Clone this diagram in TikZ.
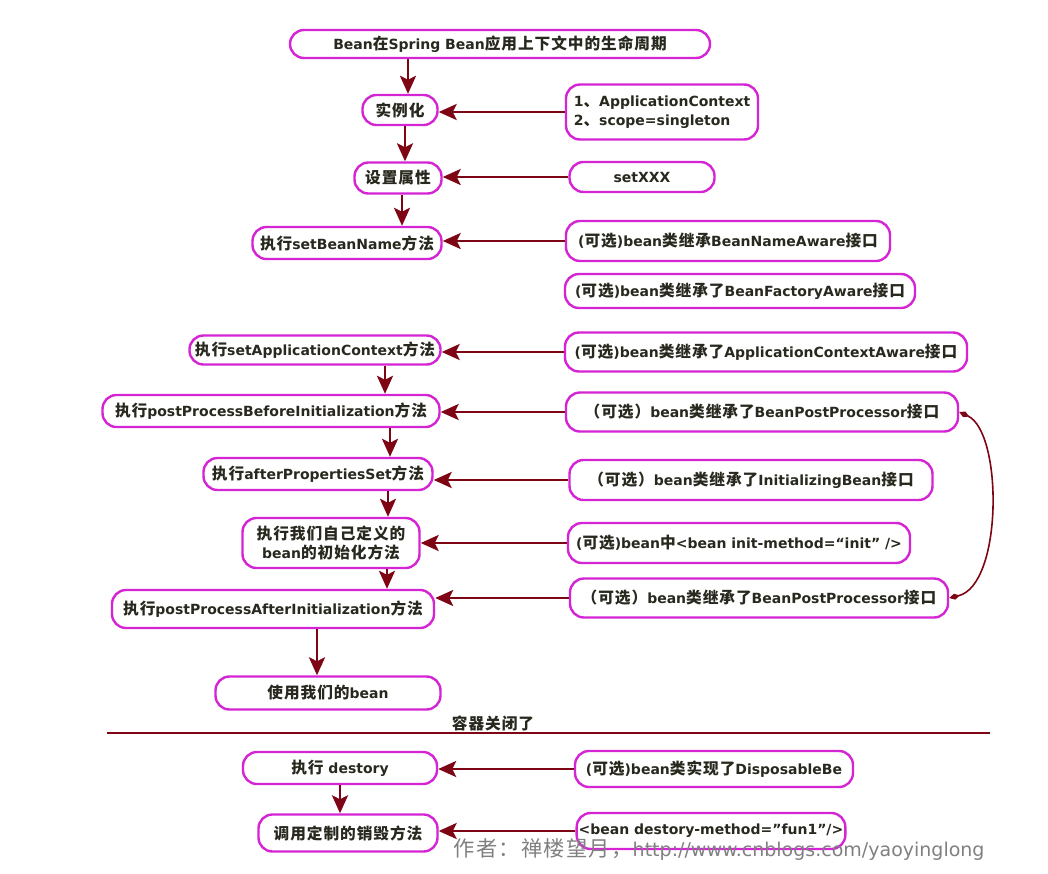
\documentclass[tikz,border=0pt]{standalone}
\usepackage{fontspec}
\setmainfont{DejaVu Sans}
\newfontfamily\zhfont{Noto Sans CJK SC}[Scale=1.12, LetterSpace=6]
\newcommand{\zh}[1]{{\zhfont #1}}
\usetikzlibrary{arrows.meta}
\definecolor{boxpink}{RGB}{212,36,212}
\definecolor{arrowred}{RGB}{125,5,20}
\definecolor{inkdark}{RGB}{40,40,30}

\begin{document}
\begin{tikzpicture}[x=1pt, y=-1pt,
  stage/.style={draw=boxpink, line width=2.4pt, rounded corners=14pt, fill=white,
    text=inkdark, font=\bfseries\fontsize{14}{19}\selectfont, inner sep=2pt, align=center},
  flow/.style={draw=arrowred, line width=2.8pt, -{Stealth[length=18pt,width=16pt,inset=4pt]}},
  loopback/.style={draw=arrowred, line width=1.6pt,
    {Diamond[length=11pt,width=6pt]}-{Diamond[length=11pt,width=6pt]}}]
  \useasboundingbox (0,0) rectangle (1048,873);

  % the life of one bean
  \node[stage, minimum width=420pt, minimum height=28pt] (life) at (500,44) {Bean\zh{在}Spring Bean\zh{应用上下文中的生命周期}};
  \node[stage, minimum width=75pt,  minimum height=30pt] (inst)    at (400,110) {\zh{实例化}};
  \node[stage, minimum width=87pt,  minimum height=31pt] (attr)    at (398,178) {\zh{设置属性}};
  \node[stage, minimum width=189pt, minimum height=32pt] (name)    at (347,243) {\zh{执行}setBeanName\zh{方法}};
  \node[stage, minimum width=251pt, minimum height=29pt] (appctx)  at (315,350) {\zh{执行}setApplicationContext\zh{方法}};
  \node[stage, minimum width=337pt, minimum height=32pt] (before)  at (271,411) {\zh{执行}postProcessBeforeInitialization\zh{方法}};
  \node[stage, minimum width=229pt, minimum height=32pt] (afterps) at (318,474) {\zh{执行}afterPropertiesSet\zh{方法}};
  \node[stage, minimum width=177pt, minimum height=50pt] (myinit)  at (331,543) {\zh{执行我们自己定义的}\\bean\zh{的初始化方法}};
  \node[stage, minimum width=322pt, minimum height=38pt] (after)   at (273,609) {\zh{执行}postProcessAfterInitialization\zh{方法}};
  \node[stage, minimum width=225pt, minimum height=33pt] (use)     at (328,693) {\zh{使用我们的}bean};

  % what feeds each step
  \node[stage, minimum width=192pt, minimum height=55pt, align=left] (ctx) at (662,112) {1\zh{、}ApplicationContext\\2\zh{、}scope=singleton};
  \node[stage, minimum width=145pt, minimum height=30pt] (setx)     at (642,177) {setXXX};
  \node[stage, minimum width=324pt, minimum height=40pt] (nameaw)   at (728,241) {(\zh{可选})bean\zh{类继承}BeanNameAware\zh{接口}};
  \node[stage, minimum width=350pt, minimum height=34pt] (factaw)   at (740,291) {(\zh{可选})bean\zh{类继承了}BeanFactoryAware\zh{接口}};
  \node[stage, minimum width=402pt, minimum height=39pt] (ctxaw)    at (766,352) {(\zh{可选})bean\zh{类继承了}ApplicationContextAware\zh{接口}};
  \node[stage, minimum width=392pt, minimum height=39pt] (bpp1)     at (762,412) {\zh{（可选）}bean\zh{类继承了}BeanPostProcessor\zh{接口}};
  \node[stage, minimum width=363pt, minimum height=40pt] (initbean) at (751,480) {\zh{（可选）}bean\zh{类继承了}InitializingBean\zh{接口}};
  \node[stage, minimum width=342pt, minimum height=40pt] (initm)    at (739,543) {(\zh{可选})bean\zh{中}<bean init-method=“init” />};
  \node[stage, minimum width=378pt, minimum height=39pt] (bpp2)     at (759,598) {\zh{（可选）}bean\zh{类继承了}BeanPostProcessor\zh{接口}};

  % container closed
  \coordinate (sepL) at (107,733);
  \coordinate (sepR) at (990,733);
  \draw[arrowred, line width=2pt] (sepL) -- (sepR);
  \node[text=inkdark, font=\bfseries\fontsize{14}{16}\selectfont] (closed) at (493,723) {\zh{容器关闭了}};

  \node[stage, minimum width=194pt, minimum height=32pt] (destroy) at (340,768) {\zh{执行} destory};
  \node[stage, minimum width=179pt, minimum height=37pt] (custom)  at (348,833) {\zh{调用定制的销毁方法}};
  \node[stage, minimum width=278pt, minimum height=36pt] (dispo)   at (714,769) {(\zh{可选})bean\zh{类实现了}DisposableBe};
  \node[stage, minimum width=262pt, minimum height=36pt] (fun)     at (711,831) {<bean destory-method="fun1"/>};

  % down the chain
  \draw[flow] (408,0 |- life.south)    -- (408,0 |- inst.north);
  \draw[flow] (405,0 |- inst.south)    -- (405,0 |- attr.north);
  \draw[flow] (402,0 |- attr.south)    -- (402,0 |- name.north);
  \draw[flow] (385,0 |- appctx.south)  -- (385,0 |- before.north);
  \draw[flow] (390,0 |- before.south)  -- (390,0 |- afterps.north);
  \draw[flow] (388,0 |- afterps.south) -- (388,0 |- myinit.north);
  \draw[flow] (387,0 |- myinit.south)  -- (387,0 |- after.north);
  \draw[flow] (317,0 |- after.south)   -- (317,0 |- use.north);
  \draw[flow] (340,0 |- destroy.south) -- (340,0 |- custom.north);

  % from the right
  \draw[flow] (ctx.west)      -- (ctx.west -| inst.east);
  \draw[flow] (setx.west)     -- (setx.west -| attr.east);
  \draw[flow] (nameaw.west)   -- (nameaw.west -| name.east);
  \draw[flow] (ctxaw.west)    -- (ctxaw.west -| appctx.east);
  \draw[flow] (bpp1.west)     -- (bpp1.west -| before.east);
  \draw[flow] (initbean.west) -- (initbean.west -| afterps.east);
  \draw[flow] (initm.west)    -- (initm.west -| myinit.east);
  \draw[flow] (bpp2.west)     -- (bpp2.west -| after.east);
  \draw[flow] (dispo.west)    -- (dispo.west -| destroy.east);
  \draw[flow] (fun.west)      -- (fun.west -| custom.east);

  \draw[loopback] (bpp1.east) .. controls (1003,432) and (1003,585) .. (bpp2.east);

  \node[text=gray, font=\fontsize{19}{21}\selectfont] (mark) at (719,850) {\zh{作者：禅楼望月，}http://www.cnblogs.com/yaoyinglong};
\end{tikzpicture}
\end{document}
